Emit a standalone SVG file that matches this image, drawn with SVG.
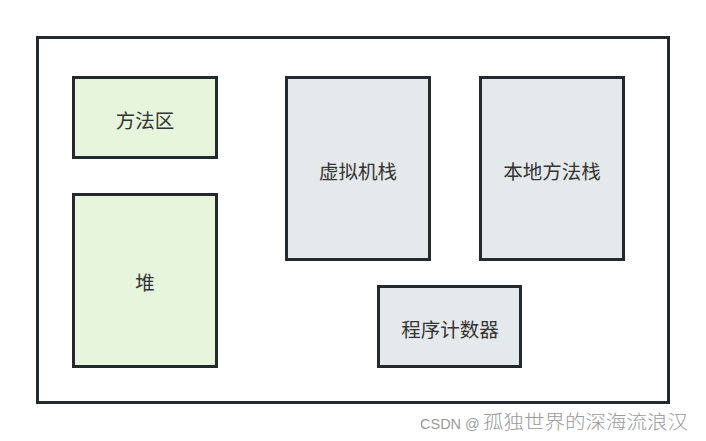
<svg xmlns="http://www.w3.org/2000/svg" width="706" height="441" viewBox="0 0 706 441">
<style>
.box{stroke:#222a30;stroke-width:3}
.g{fill:#e6f5dc}
.b{fill:#e6e9ec}
.t{font-family:"Noto Sans CJK SC","Liberation Sans",sans-serif;font-size:19.5px;fill:#333;text-anchor:middle;dominant-baseline:central}
.w{font-family:"Liberation Sans","Noto Sans CJK SC",sans-serif;font-size:14.5px;fill:#9a9a9a}
.wc{font-family:"Noto Sans CJK SC",sans-serif;font-size:19px;font-weight:300}
</style>
<rect width="706" height="441" fill="#fff"/>
<g id="container"><rect x="37.5" y="37.5" width="631" height="365" fill="#fff" class="box"/></g>
<g id="method-area"><rect x="73.5" y="77.5" width="143" height="80" class="box g"/><text x="145" y="119" class="t">方法区</text></g>
<g id="heap"><rect x="73.5" y="194.5" width="143" height="172" class="box g"/><text x="145" y="281" class="t">堆</text></g>
<g id="vm-stack"><rect x="286.5" y="77.5" width="143" height="182" class="box b"/><text x="358" y="170" class="t">虚拟机栈</text></g>
<g id="native-stack"><rect x="480.5" y="77.5" width="143" height="182" class="box b"/><text x="552" y="170" class="t">本地方法栈</text></g>
<g id="pc"><rect x="378.5" y="286.5" width="142" height="80" class="box b"/><text x="450" y="328" class="t">程序计数器</text></g>
<g id="connectors"></g>
<text x="420" y="429" class="w">CSDN @</text>
<text x="483" y="429" class="w wc" textLength="205" lengthAdjust="spacingAndGlyphs">孤独世界的深海流浪汉</text>
</svg>
